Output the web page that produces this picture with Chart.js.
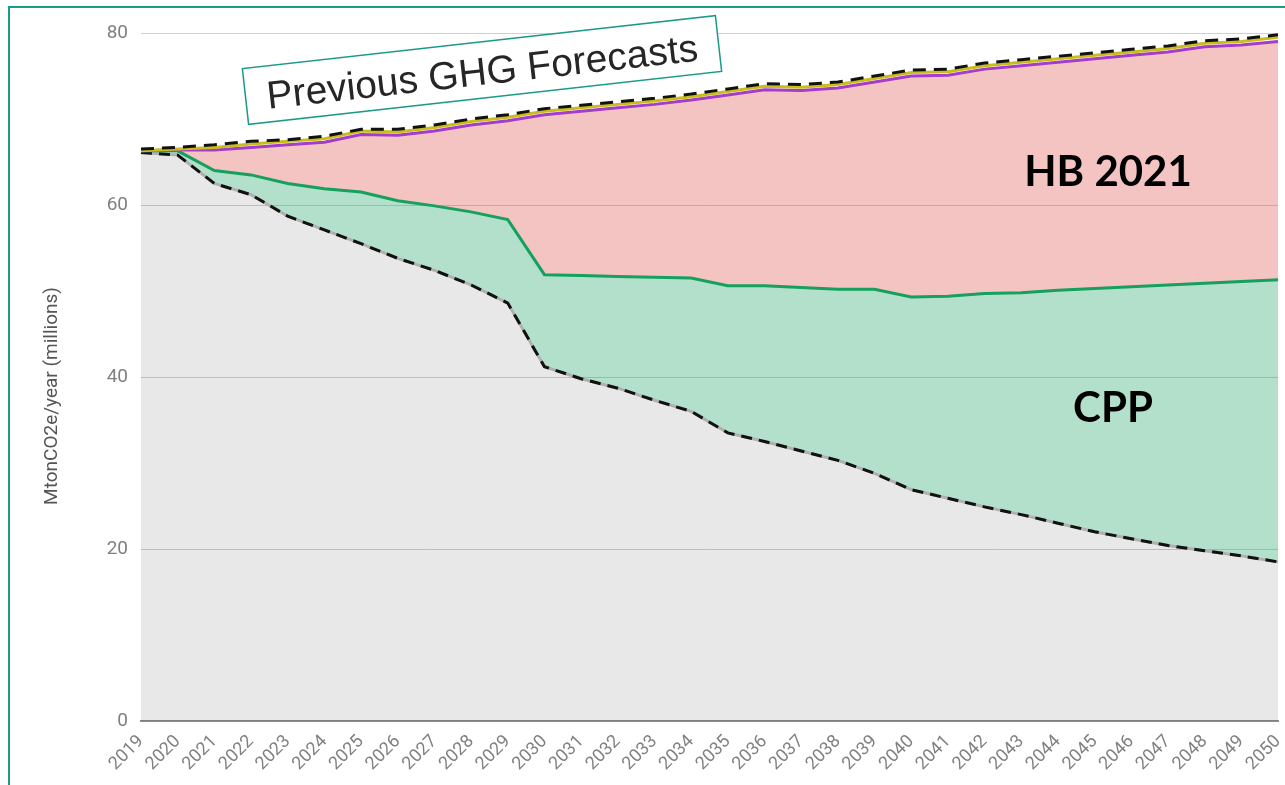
<!DOCTYPE html>
<html>
<head>
<meta charset="utf-8">
<script src="https://cdn.jsdelivr.net/npm/chart.js@4"></script>
<style>
  html, body { margin: 0; padding: 0; background: #fff; overflow: hidden; }
  #wrap { position: relative; width: 1285px; height: 785px; }
  #frame { position: absolute; left: 8px; top: 6px; width: 1400px; height: 900px;
           border-left: 2px solid #1a9a87; border-top: 2px solid #1a9a87; pointer-events: none; }
</style>
</head>
<body>
<div id="wrap">
  <canvas id="myChart"></canvas>
  <div id="frame"></div>
</div>
<script>
const years = ["2019","2020","2021","2022","2023","2024","2025","2026","2027","2028","2029","2030","2031","2032","2033","2034","2035","2036","2037","2038","2039","2040","2041","2042","2043","2044","2045","2046","2047","2048","2049","2050"];

// previous forecast (black dashed, top)
const prevForecast = [66.5,66.7,67.0,67.4,67.6,68.0,68.8,68.8,69.3,70.0,70.5,71.2,71.6,72.0,72.4,72.9,73.5,74.1,74.0,74.3,75.0,75.7,75.8,76.5,76.9,77.3,77.7,78.1,78.5,79.1,79.3,79.8];
// yellow line just below it
const yellowLine = [66.3,66.5,66.7,67.1,67.4,67.7,68.6,68.5,69.0,69.7,70.2,70.9,71.3,71.7,72.1,72.6,73.2,73.8,73.7,74.0,74.7,75.4,75.5,76.2,76.6,77.0,77.4,77.8,78.2,78.8,79.0,79.5];
// HB 2021 (purple)
const hb2021 = [66.3,66.4,66.4,66.7,67.0,67.3,68.2,68.1,68.6,69.3,69.8,70.5,70.9,71.3,71.7,72.2,72.8,73.4,73.3,73.6,74.3,75.0,75.1,75.8,76.2,76.6,77.0,77.4,77.8,78.4,78.6,79.0];
// CPP (green)
const cpp = [66.3,66.3,64.0,63.5,62.5,61.9,61.5,60.5,59.9,59.2,58.3,51.9,51.8,51.7,51.6,51.5,50.6,50.6,50.4,50.2,50.2,49.3,49.4,49.7,49.8,50.1,50.3,50.5,50.7,50.9,51.1,51.3];
// lower dashed line
const lowerPath = [66.1,65.8,62.5,61.2,58.7,57.1,55.5,53.8,52.4,50.7,48.6,41.2,39.8,38.7,37.3,36.0,33.5,32.5,31.4,30.3,28.8,26.9,25.9,24.9,24.0,23.0,22.0,21.2,20.4,19.8,19.2,18.5];

const yTicks = [0, 20, 40, 60, 80];

const notes = {
  id: "notes",
  afterDraw(chart) {
    const ctx = chart.ctx;
    ctx.save();
    ctx.translate(482, 70);
    ctx.rotate(-6.4 * Math.PI / 180);
    ctx.fillStyle = "#fff";
    ctx.fillRect(-238, -28, 476, 56);
    ctx.strokeStyle = "#1a9a87";
    ctx.lineWidth = 1.5;
    ctx.strokeRect(-238, -28, 476, 56);
    ctx.fillStyle = "#262626";
    ctx.font = '39px "Liberation Sans", Arial, sans-serif';
    ctx.textAlign = "center";
    ctx.textBaseline = "middle";
    ctx.fillText("Previous GHG Forecasts", 0, 4);
    ctx.restore();

    ctx.save();
    ctx.fillStyle = "#000";
    ctx.font = 'bold 42px Lato, sans-serif';
    ctx.textAlign = "center";
    ctx.textBaseline = "middle";
    ctx.fillText("HB 2021", 1108, 172);
    ctx.fillText("CPP", 1113, 408);
    ctx.restore();

    // y axis title, sits a bit below the scale middle in the original
    ctx.save();
    ctx.translate(52, 396);
    ctx.rotate(-Math.PI / 2);
    ctx.fillStyle = "#555";
    ctx.font = '19px Roboto, sans-serif';
    ctx.textAlign = "center";
    ctx.textBaseline = "middle";
    ctx.fillText("MtonCO2e/year (millions)", 0, 0);
    ctx.restore();
  }
};

new Chart("myChart", {
  type: "line",
  data: {
    labels: years,
    datasets: [{
      data: prevForecast,
      borderColor: "#111",
      borderWidth: 3,
      borderDash: [13, 8],
      fill: false
    },{
      data: yellowLine,
      borderColor: "#c8bd1a",
      borderWidth: 3,
      fill: false
    },{
      data: hb2021,
      borderColor: "#a53ccc",
      borderWidth: 3,
      fill: {target: 3, above: "rgba(220,60,55,0.3)", below: "rgba(220,60,55,0.3)"}
    },{
      data: cpp,
      borderColor: "#16a05d",
      borderWidth: 3,
      fill: {target: 5, above: "rgba(16,160,90,0.32)", below: "rgba(16,160,90,0.32)"}
    },{
      data: lowerPath,
      borderColor: "#111",
      borderWidth: 3,
      borderDash: [11, 7],
      fill: false
    },{
      data: lowerPath,
      borderColor: "#b0b0b0",
      borderWidth: 3,
      fill: {target: "origin", above: "rgba(0,0,0,0.09)"}
    }]
  },
  options: {
    responsive: true,
    maintainAspectRatio: false,
    animation: false,
    elements: {point: {radius: 0}, line: {tension: 0}},
    layout: {padding: {top: 33, right: 7, bottom: 0, left: 0}},
    plugins: {
      legend: {display: false},
      tooltip: {enabled: false},
      filler: {drawTime: "beforeDatasetsDraw"}
    },
    scales: {
      x: {
        grid: {display: false, drawTicks: false},
        border: {display: true, color: "#8c8c8c", width: 2},
        ticks: {
          autoSkip: false,
          minRotation: 45,
          maxRotation: 45,
          padding: 10,
          color: "#808080",
          font: {family: "Roboto", size: 18}
        },
        afterFit(scale) {
          scale.height = 64;
          scale.paddingRight = 0;
        }
      },
      y: {
        min: 0,
        max: 80,
        afterBuildTicks(scale) {
          scale.ticks = yTicks.map(v => ({value: v}));
        },
        grid: {color: "#d0d0d0", lineWidth: 1, drawTicks: false},
        border: {display: false},
        ticks: {
          padding: 13,
          color: "#808080",
          font: {family: "Roboto", size: 19}
        },
        afterFit(scale) {
          scale.width = 141;
        }
      }
    }
  },
  plugins: [notes]
});
</script>
</body>
</html>
